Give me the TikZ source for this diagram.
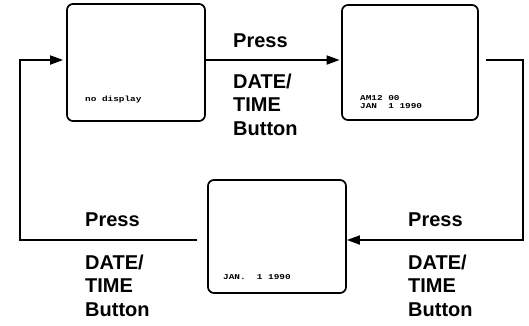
\documentclass[tikz,border=0pt]{standalone}
\usepackage{fontspec}
\setmainfont{Liberation Sans}
\newfontfamily\lcdfont[FakeStretch=1.25]{Liberation Mono}
\usetikzlibrary{arrows.meta}
\begin{document}
\begin{tikzpicture}[x=1pt,y=-1pt,
  screen/.style={draw, line width=1.7pt, rounded corners=6pt, inner sep=0pt},
  conn/.style={line width=1.7pt},
  arr/.style={conn, -{Triangle[length=13pt,width=9pt]}},
  lbl/.style={anchor=base west, inner sep=0pt, font=\fontsize{20}{22}\selectfont\bfseries},
  lcd/.style={anchor=base west, inner sep=0pt, font=\lcdfont\fontsize{7.5}{8}\selectfont\bfseries}]
\useasboundingbox (0,0) rectangle (529,325);
% screens
\node[screen, minimum width=138pt, minimum height=117pt] (b1) at (136,62.5) {};
\node[screen, minimum width=136pt, minimum height=115pt] (b2) at (410,62.5) {};
\node[screen, minimum width=138pt, minimum height=113pt] (b3) at (277,236.5) {};
% screen texts
\node[lcd] (t1) at (85,101) {no~display};
\node[lcd] (t2a) at (360,100) {AM12~00};
\node[lcd] (t2b) at (360,108) {JAN~~1~1990};
\node[lcd] (t3) at (223,279) {JAN.~~1~1990};
% connectors
\draw[arr, shorten >=1.5pt] ([yshift=2.5pt]b1.east) -- ([yshift=2.5pt]b2.west);
\coordinate (r1) at (523,60);
\coordinate (r2) at (523,240);
\draw[arr, shorten <=7pt] ([yshift=2.5pt]b2.east) -- (r1) -- (r2) -- ([yshift=-3.5pt]b3.east);
\coordinate (l1) at (20,240);
\coordinate (l2) at (20,60);
\draw[arr, shorten <=10pt, shorten >=3pt] ([yshift=-3.5pt]b3.west) -- (l1) -- (l2) -- ([yshift=2.5pt]b1.west);
% labels
\node[lbl] (p1) at (233,47) {Press};
\node[lbl] (d1) at (233,88) {DATE/};
\node[lbl] (m1) at (233,111.5) {TIME};
\node[lbl] (u1) at (233,135) {Button};
\node[lbl] (p2) at (85,226) {Press};
\node[lbl] (d2) at (85,269) {DATE/};
\node[lbl] (m2) at (85,292.5) {TIME};
\node[lbl] (u2) at (85,316) {Button};
\node[lbl] (p3) at (408,226) {Press};
\node[lbl] (d3) at (408,269) {DATE/};
\node[lbl] (m3) at (408,292.5) {TIME};
\node[lbl] (u3) at (408,316) {Button};
\end{tikzpicture}
\end{document}
